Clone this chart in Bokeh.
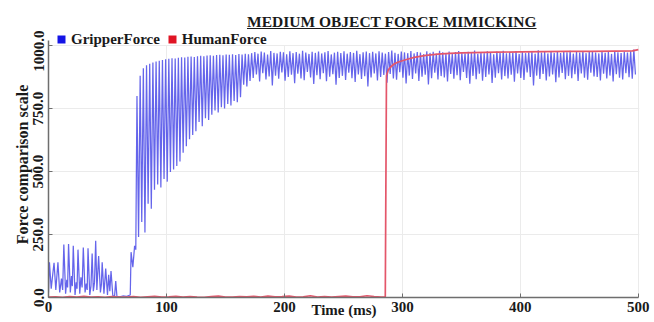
import numpy as np
from bokeh.plotting import figure
from bokeh.layouts import column
from bokeh.models import (Range1d, FixedTicker, PrintfTickFormatter, Legend,
                          LegendItem, Grid, Div)
from bokeh.embed import file_html
from bokeh.resources import INLINE

TITLE = "MEDIUM OBJECT FORCE MIMICKING"
X_LABEL = "Time (ms)"
Y_LABEL = "Force comparison scale"
SERIES = ["GripperForce", "HumanForce"]
X_TICKS = [0, 100, 200, 300, 400, 500]
Y_TICKS = [0, 250, 500, 750, 1000]

# Gripper force: early low-level part (explicit samples)
GRIP_EARLY_T = [0, 0.8, 2.3, 3.2, 4.7, 6.2, 8, 9.5, 11, 12, 13, 14.5, 15.5, 16.2, 17, 18.5,
                19.5, 20.2, 21, 22.5, 23.5, 24.2, 25, 26.5, 27.5, 28.5, 29.5, 31, 32, 32.8,
                33.5, 35, 36, 37, 38, 39, 40, 41, 42.5, 44, 44.8, 45.5, 47, 48.5, 50, 51,
                52, 53, 54.5, 56, 57, 58, 60, 63, 66, 68, 69.3, 70, 71.5, 73, 74]
GRIP_EARLY_V = [20, 140, 35, 75, 138, 30, 140, 20, 75, 30, 210, 15, 70, 40, 212, 20,
                85, 45, 205, 10, 60, 35, 190, 15, 80, 40, 198, 20, 55, 30,
                195, 10, 45, 175, 25, 60, 225, 30, 165, 20, 50, 140, 15, 115, 10, 90,
                25, 105, 8, 5, 65, 5, 3, 6, 4, 8, 10, 180, 120, 205, 190]

# Gripper force: oscillating part, one peak + one trough per cycle
GRIP_CYCLE_START = 75.0
GRIP_CYCLE_MS = 2.7
GRIP_PEAKS = [800, 880, 910, 922, 928, 933, 937, 940, 943, 946, 948, 950, 949, 952, 954,
              953, 956, 957, 955, 958, 960, 958, 961, 962, 960, 963, 964, 962, 965, 964,
              966, 963, 967, 965, 968, 966,
              970, 974, 968, 976, 972, 965, 978, 971, 969, 975, 973, 966, 977, 970, 974, 968, 979, 972, 967, 975,
              971, 976, 969, 973, 978, 965, 972, 975, 970, 977, 968, 974, 971, 979, 966, 973, 976, 970, 975, 969,
              977, 972, 968, 974, 980, 971, 967, 976, 973, 970, 978, 969, 974, 972, 966, 977, 971, 975, 968, 979,
              973, 970, 976, 967, 974, 978, 971, 969, 975, 972, 980, 968, 974, 970, 977, 973, 966, 976, 971, 979,
              969, 974, 972, 978, 967, 975, 970, 973, 977, 968, 981, 972, 974, 969, 976, 971, 978, 970, 975, 973,
              979, 968, 974, 972, 977, 970, 976, 975, 972, 969, 976, 971, 974, 967, 978, 973, 970, 975, 972,
              977, 984]
GRIP_TROUGHS = [240, 300, 258, 372, 352, 428, 449, 437, 470, 460, 498, 508, 522, 540, 575,
                600, 628, 645, 660, 697, 680, 712, 705, 726, 742, 735, 755, 750, 768, 762,
                780, 775, 795, 845, 838, 860,
                872, 885, 858, 890, 866, 878, 842, 881, 869, 893, 861, 876, 884, 851, 888, 870, 863, 895, 874, 848,
                882, 867, 890, 859, 877, 886, 845, 872, 880, 864, 892, 871, 856, 885, 868, 879, 838, 874, 889, 862,
                876, 883, 853, 887, 870, 865, 894, 873, 850, 881, 868, 889, 860, 877, 884, 846, 871, 892, 866, 879,
                874, 858, 887, 869, 882, 863, 895, 872, 849, 880, 867, 888, 861, 876, 885, 852, 873, 890, 866, 879,
                870, 884, 857, 889, 872, 864, 893, 876, 842, 881, 868, 887, 862, 878, 885, 855, 874, 891, 867, 880,
                871, 886, 860, 889, 873, 865, 892, 878, 876, 862, 888, 870, 881, 858, 886, 873, 866, 890, 875,
                869, 885]

# Human force
HUMAN_T = [0, 6, 12, 18, 24, 30, 36, 42, 48, 54, 60, 66, 72, 78, 84, 90, 96, 102, 108, 114,
           120, 126, 132, 138, 144, 150, 156, 162, 168, 174, 180, 186, 192, 198, 204, 210,
           216, 222, 228, 234, 240, 246, 252, 258, 264, 270, 276, 282,
           285.5, 286.5, 288, 290, 293, 296, 300, 305, 310, 315, 320, 330, 340, 350, 360,
           380, 400, 420, 440, 460, 480, 495, 500]
HUMAN_V = [2, 3, 1, 4, 2, 5, 2, 3, 1, 4, 2, 2, 4, 1, 3, 5, 2, 3, 5, 2,
           4, 2, 1, 4, 6, 2, 2, 4, 3, 5, 2, 6, 3, 4, 6, 2,
           3, 7, 2, 4, 2, 4, 6, 3, 3, 7, 4, 2,
           3, 880, 903, 915, 927, 934, 940, 947, 953, 957, 961, 966, 969, 971, 972,
           974, 975, 976, 977, 977, 978, 979, 984]

# ---- assemble gripper series
n = len(GRIP_PEAKS)
starts = GRIP_CYCLE_START + GRIP_CYCLE_MS * np.arange(n)
cyc_t = np.empty(2 * n)
cyc_v = np.empty(2 * n)
cyc_t[0::2] = starts
cyc_t[1::2] = starts + GRIP_CYCLE_MS / 2
cyc_v[0::2] = GRIP_PEAKS
cyc_v[1::2] = GRIP_TROUGHS
grip_t = np.concatenate([np.array(GRIP_EARLY_T, float), cyc_t])
grip_v = np.concatenate([np.array(GRIP_EARLY_V, float), cyc_v])

FONT = "Liberation Serif"
TXT = "#1a1a1a"

title_div = Div(
    text=('<div style="font-family:\'Liberation Serif\';font-weight:bold;font-size:15.5px;'
          'text-decoration:underline;color:#1a1a1a;padding-left:247px;padding-top:13px;'
          'line-height:18px;white-space:nowrap;margin:0">' + TITLE + '</div>'),
    width=654, height=30, margin=0)

p = figure(width=654, height=292, output_backend="svg", toolbar_location=None,
           x_range=Range1d(0, 501), y_range=Range1d(0, 1056),
           min_border_left=48, min_border_right=15, min_border_top=1, min_border_bottom=25,
           margin=0)
p.outline_line_color = None
p.background_fill_color = "white"
p.border_fill_color = "white"

xa = p.xaxis[0]
ya = p.yaxis[0]
xa.ticker = FixedTicker(ticks=X_TICKS)
ya.ticker = FixedTicker(ticks=Y_TICKS)
ya.formatter = PrintfTickFormatter(format="%.1f")
xa.bounds = (0, 500)
ya.bounds = (0, 1020)
ya.major_label_orientation = "vertical"
xa.axis_label = X_LABEL
ya.axis_label = Y_LABEL
xa.axis_label_standoff = -13
ya.axis_label_standoff = 0
for ax in (xa, ya):
    ax.axis_line_color = "#6e6e6e"
    ax.axis_line_width = 1.5
    ax.major_tick_line_color = "#6e6e6e"
    ax.major_tick_in = 4
    ax.major_tick_out = 0
    ax.minor_tick_line_color = None
    ax.major_label_text_font = FONT
    ax.major_label_text_font_style = "bold"
    ax.major_label_text_font_size = "15px"
    ax.major_label_text_color = TXT
    ax.axis_label_text_font = FONT
    ax.axis_label_text_font_style = "bold"
    ax.axis_label_text_color = TXT
xa.major_label_standoff = 4
ya.major_label_standoff = 5
xa.axis_label_text_font_size = "15px"
ya.axis_label_text_font_size = "16px"

p.xgrid.ticker = FixedTicker(ticks=X_TICKS)
p.ygrid.ticker = FixedTicker(ticks=Y_TICKS)
p.grid.grid_line_color = "#ebebeb"
p.grid.grid_line_width = 1
if "cross_bounds" in Grid.properties():
    p.xgrid.cross_bounds = (0, 1000)

p.line(grip_t, grip_v, line_color="#4a4ae8", line_alpha=0.85, line_width=1.25)
p.line(HUMAN_T, HUMAN_V, line_color="#e4566a", line_width=1.7)

# legend swatches (zero-size markers on the data so nothing extra is drawn)
gs = p.scatter(grip_t, grip_v, marker="square", size=0, fill_color="#1414e6",
               line_color="#1414e6", line_width=0)
hs = p.scatter(HUMAN_T, HUMAN_V, marker="square", size=0, fill_color="#e01424",
               line_color="#e01424", line_width=0)
legend = Legend(items=[LegendItem(label=SERIES[0], renderers=[gs]),
                       LegendItem(label=SERIES[1], renderers=[hs])],
                location=(3, 248), orientation="horizontal",
                glyph_width=20, glyph_height=20, label_height=20,
                label_standoff=0, spacing=2, padding=0, margin=0,
                border_line_color=None, background_fill_alpha=0,
                label_text_font=FONT, label_text_font_style="bold",
                label_text_font_size="15px", label_text_color=TXT)
p.add_layout(legend)

layout = column(title_div, p, spacing=0)
open("out.html", "w").write(file_html(layout, INLINE))
